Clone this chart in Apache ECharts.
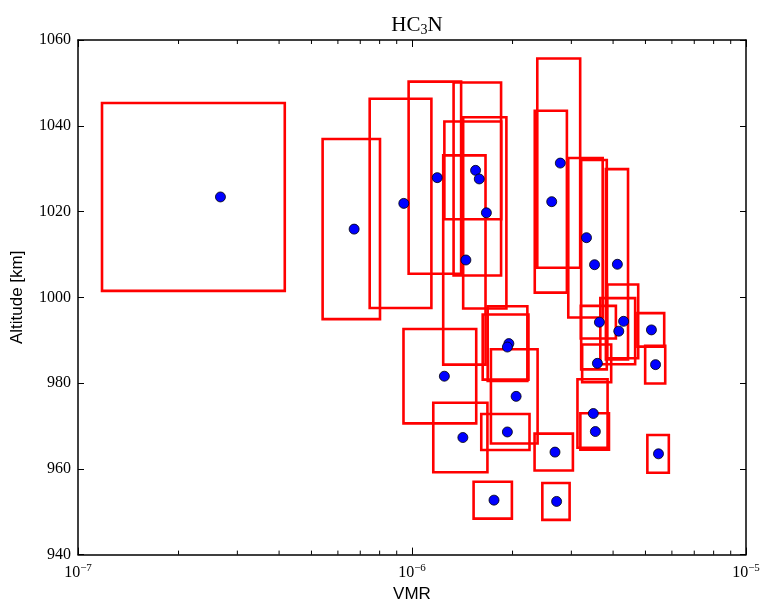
<!DOCTYPE html>
<html>
<head>
<meta charset="utf-8">
<script src="https://cdn.jsdelivr.net/npm/echarts@6/dist/echarts.min.js"></script>
<style>
  html, body { margin: 0; padding: 0; background: #ffffff; }
  #chart { width: 766px; height: 608px; }
</style>
</head>
<body>
<div id="chart"></div>
<script>
// HC3N volume mixing ratio retrievals vs altitude, with error boxes
const vmr = [2.67e-7, 6.71e-7, 9.45e-7, 1.19e-6, 1.55e-6, 1.59e-6, 1.67e-6, 1.45e-6,
  2.78e-6, 2.62e-6, 3.33e-6, 3.52e-6, 4.12e-6, 3.64e-6, 4.30e-6, 4.16e-6,
  5.21e-6, 3.59e-6, 5.36e-6, 1.95e-6, 1.93e-6, 1.25e-6, 2.05e-6, 1.42e-6,
  1.93e-6, 3.49e-6, 3.54e-6, 2.68e-6, 5.47e-6, 1.76e-6, 2.71e-6];
const vmrErr = [1.49e-7, 1.31e-7, 1.98e-7, 2.13e-7, 3.00e-7, 2.58e-7, 2.47e-7, 2.10e-7,
  4.08e-7, 2.89e-7, 3.93e-7, 3.10e-7, 3.14e-7, 4.38e-7, 4.56e-7, 4.97e-7,
  4.80e-7, 3.58e-7, 3.70e-7, 2.65e-7, 3.02e-7, 3.07e-7, 3.27e-7, 2.62e-7,
  3.18e-7, 3.61e-7, 3.48e-7, 3.52e-7, 4.04e-7, 2.31e-7, 2.54e-7];
const altitude = [1023.4, 1015.9, 1021.9, 1027.9, 1029.6, 1027.6, 1019.7, 1008.7,
  1031.3, 1022.3, 1013.9, 1007.6, 1007.7, 994.2, 994.4, 992.1,
  992.4, 984.6, 984.3, 989.2, 988.4, 981.6, 976.9, 967.3,
  968.6, 972.9, 968.7, 963.9, 963.5, 952.7, 952.4];
const altErr = [21.9, 21.0, 24.4, 22.4, 11.4, 22.5, 22.3, 24.4,
  24.4, 21.2, 18.6, 24.4, 22.2, 3.8, 8.6, 7.7,
  3.9, 4.4, 4.4, 8.7, 7.6, 11.0, 11.0, 8.1,
  4.2, 8.0, 4.25, 4.3, 4.4, 4.3, 4.3];

// log-axis minor tick positions
const xMinorTicks = [2e-7, 3e-7, 4e-7, 5e-7, 6e-7, 7e-7, 8e-7, 9e-7,
  2e-6, 3e-6, 4e-6, 5e-6, 6e-6, 7e-6, 8e-6, 9e-6];

const X_MIN = 1e-7, X_MAX = 1e-5, Y_MIN = 940, Y_MAX = 1060;
const SERIF = '"Liberation Serif", "DejaVu Serif", serif';
const SANS = '"Liberation Sans", Arial, sans-serif';

const boxData = vmr.map((v, i) => [v, vmrErr[i], altitude[i], altErr[i]]);
const pointData = vmr.map((v, i) => [v, altitude[i]]);
const minorData = xMinorTicks.map(v => [v, 1000]);

const chart = echarts.init(document.getElementById('chart'), null, { renderer: 'canvas' });

const frameLine = { show: true, onZero: false, lineStyle: { color: '#000', width: 1.5 } };

chart.setOption({
  animation: false,
  backgroundColor: '#ffffff',
  title: {
    text: '{n|HC}{s|3}{n|N}',
    left: 412,
    top: 9,
    textAlign: 'center',
    textStyle: {
      fontWeight: 'normal',
      rich: {
        n: { fontFamily: SERIF, fontSize: 21, fontWeight: 'normal', color: '#000' },
        s: { fontFamily: SERIF, fontSize: 14, fontWeight: 'normal', color: '#000', padding: [9, 0, 0, 0] }
      }
    }
  },
  grid: { left: 78, right: 20, top: 40, bottom: 50, containLabel: false },
  xAxis: [
    {
      type: 'log', logBase: 10, min: X_MIN, max: X_MAX, interval: 1,
      position: 'bottom',
      name: 'VMR', nameLocation: 'middle', nameGap: 30,
      nameTextStyle: { fontFamily: SANS, fontSize: 17, color: '#000' },
      axisLine: frameLine,
      axisTick: { show: true, inside: true, length: 7, lineStyle: { color: '#000', width: 1 } },
      splitLine: { show: false },
      axisLabel: {
        margin: 8,
        formatter: v => '{b|10}{e|\u2212' + Math.abs(Math.round(Math.log10(v))) + '}',
        rich: {
          b: { fontFamily: SERIF, fontSize: 16, color: '#000' },
          e: { fontFamily: SERIF, fontSize: 11, color: '#000', padding: [0, 0, 10, 0] }
        }
      }
    },
    {
      type: 'log', logBase: 10, min: X_MIN, max: X_MAX, interval: 1,
      position: 'top',
      axisLine: frameLine,
      axisTick: { show: true, inside: true, length: 7, lineStyle: { color: '#000', width: 1 } },
      axisLabel: { show: false },
      splitLine: { show: false }
    }
  ],
  yAxis: [
    {
      type: 'value', min: Y_MIN, max: Y_MAX, interval: 20,
      position: 'left',
      name: 'Altitude [km]', nameLocation: 'middle', nameGap: 52,
      nameTextStyle: { fontFamily: SANS, fontSize: 17, color: '#000' },
      axisLine: frameLine,
      axisTick: { show: true, inside: true, length: 6, lineStyle: { color: '#000', width: 1 } },
      splitLine: { show: false },
      axisLabel: {
        margin: 7, fontFamily: SERIF, fontSize: 16, color: '#000',
        formatter: v => String(v)
      }
    },
    {
      type: 'value', min: Y_MIN, max: Y_MAX, interval: 20,
      position: 'right',
      axisLine: frameLine,
      axisTick: { show: true, inside: true, length: 6, lineStyle: { color: '#000', width: 1 } },
      axisLabel: { show: false },
      splitLine: { show: false }
    }
  ],
  series: [
    {
      // minor ticks of the log x axis, on the bottom and top frame edges
      type: 'custom',
      xAxisIndex: 0, yAxisIndex: 0,
      silent: true, clip: false, z: 1,
      encode: { x: 0, y: 1 },
      data: minorData,
      renderItem: (params, api) => {
        const v = api.value(0);
        const b = api.coord([v, Y_MIN]);
        const t = api.coord([v, Y_MAX]);
        const style = { stroke: '#000', lineWidth: 1 };
        return {
          type: 'group',
          children: [
            { type: 'line', shape: { x1: b[0], y1: b[1], x2: b[0], y2: b[1] - 4 }, style },
            { type: 'line', shape: { x1: t[0], y1: t[1], x2: t[0], y2: t[1] + 4 }, style }
          ]
        };
      }
    },
    {
      // error boxes: x ± vmrErr, altitude ± altErr
      type: 'custom',
      xAxisIndex: 0, yAxisIndex: 0,
      silent: true, z: 2,
      encode: { x: 0, y: 2 },
      data: boxData,
      renderItem: (params, api) => {
        const x = api.value(0), dx = api.value(1), y = api.value(2), dy = api.value(3);
        const p1 = api.coord([x - dx, y + dy]);
        const p2 = api.coord([x + dx, y - dy]);
        return {
          type: 'rect',
          shape: { x: p1[0], y: p1[1], width: p2[0] - p1[0], height: p2[1] - p1[1] },
          style: { fill: 'none', stroke: '#ff0000', lineWidth: 2.6 }
        };
      }
    },
    {
      type: 'scatter',
      xAxisIndex: 0, yAxisIndex: 0,
      z: 3,
      symbol: 'circle',
      symbolSize: 10,
      data: pointData,
      itemStyle: { color: '#0000ff', borderColor: '#000', borderWidth: 0.8, opacity: 1 }
    }
  ]
});
</script>
</body>
</html>
